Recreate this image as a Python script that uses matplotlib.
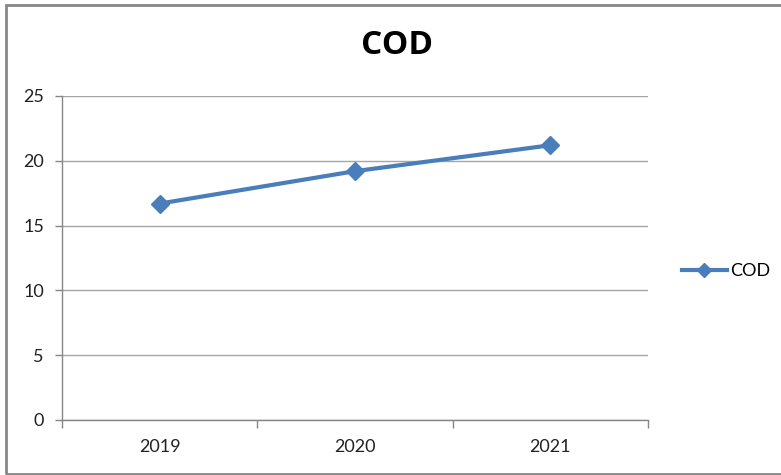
import matplotlib.pyplot as plt
from matplotlib.patches import Rectangle

# COD yearly values
years = ["2019", "2020", "2021"]
cod = [16.7, 19.2, 21.2]
y_ticks = [0, 5, 10, 15, 20, 25]

plt.rcParams['font.family'] = ['Lato', 'DejaVu Sans']

fig = plt.figure(figsize=(7.81, 4.75), dpi=100)
ax = fig.add_axes([62 / 781, 1 - 420 / 475, 586 / 781, 324 / 475])

x = range(len(years))
line, = ax.plot(x, cod, color='#4A7EBB', linewidth=3, marker='D',
                markersize=9, label='COD', zorder=3)

ax.set_xlim(-0.5, len(years) - 0.5)
ax.set_ylim(0, 25)
ax.set_yticks(y_ticks)
ax.set_yticklabels([str(v) for v in y_ticks], fontsize=13, color='#222222')
ax.set_xticks(list(x))
ax.set_xticklabels(years, fontsize=13, color='#222222')
ax.tick_params(axis='x', length=0, pad=14)
ax.tick_params(axis='y', length=5, width=1, color='#868686', pad=8)

# category boundary ticks under the x axis
ax.set_xticks([i - 0.5 for i in range(len(years) + 1)], minor=True)
ax.tick_params(axis='x', which='minor', length=6, width=1, color='#868686')

ax.grid(axis='y', color='#A6A6A6', linewidth=1)
ax.set_axisbelow(True)
for side in ['top', 'right']:
    ax.spines[side].set_visible(False)
for side in ['left', 'bottom']:
    ax.spines[side].set_color('#868686')
    ax.spines[side].set_linewidth(1)

fig.text(397 / 781, 1 - 46 / 475, 'COD', ha='center', va='center',
         fontsize=24, fontweight='bold', family=['Open Sans', 'DejaVu Sans'])

ax.legend(handles=[line], loc='center left', bbox_to_anchor=(1.03, 0.46),
          frameon=False, fontsize=13, handlelength=2.5, handletextpad=0.2,
          markerscale=0.8)

# chart frame
fig.patches.append(Rectangle((6 / 781, 1 - 474 / 475), 1, 469 / 475,
                             transform=fig.transFigure, fill=False,
                             edgecolor='#888888', linewidth=2))

fig.savefig('out.png', dpi=100)
